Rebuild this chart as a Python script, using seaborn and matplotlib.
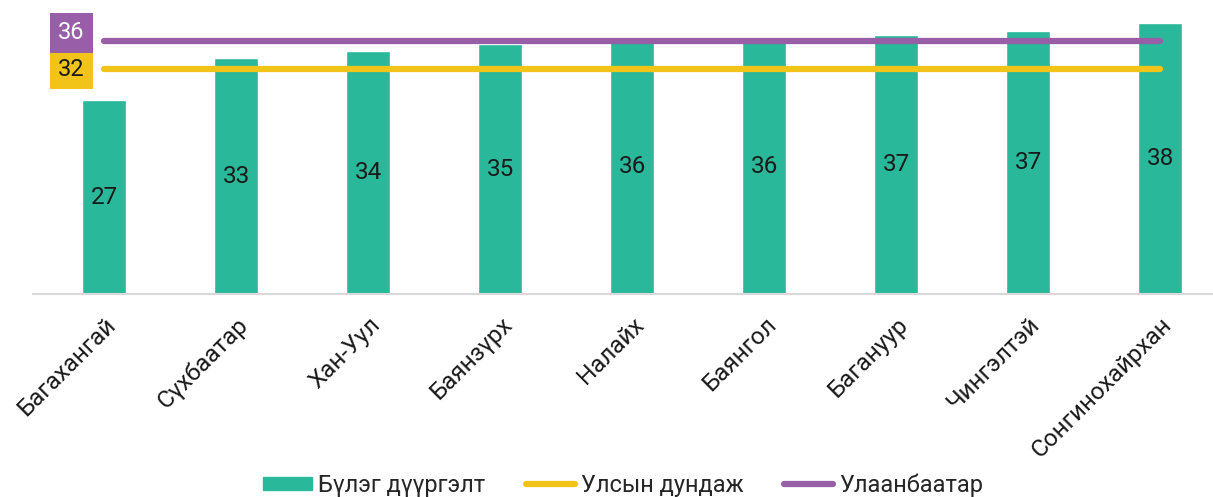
import matplotlib
matplotlib.use("Agg")
import matplotlib.pyplot as plt
import matplotlib.patches as mpatches
import matplotlib.lines as mlines
import numpy as np
import pandas as pd
import seaborn as sns

# -------- data --------
districts = ["Багахангай", "Сүхбаатар", "Хан-Уул", "Баянзүрх", "Налайх",
             "Баянгол", "Багануур", "Чингэлтэй", "Сонгинохайрхан"]
fill_rate = [27.2, 33.1, 34.1, 35.1, 35.7, 35.7, 36.4, 37.0, 38.0]
fill_labels = [27, 33, 34, 35, 36, 36, 37, 37, 38]
national_avg = 31.6
ub_avg = 35.6
national_label = "32"
ub_label = "36"

series_bar = "Бүлэг дүүргэлт"
series_nat = "Улсын дундаж"
series_ub = "Улаанбаатар"

TEAL = "#29b99a"
YELLOW = "#f2c318"
PURPLE = "#985ea8"
INK = "#1a1a1a"

sns.set_theme(style="white")
plt.rcParams["font.family"] = ["Roboto", "DejaVu Sans"]
plt.rcParams["font.weight"] = "normal"

df = pd.DataFrame({"district": districts, "value": fill_rate})

fig = plt.figure(figsize=(12.13, 4.97), dpi=100)
W, H = 1213, 497
ax = fig.add_axes([33 / W, 1 - 294 / H, 1180 / W, 294 / H])

sns.barplot(data=df, x="district", y="value", color=TEAL, width=0.33,
            saturation=1, ax=ax, zorder=2)

# bar value labels, centered in the bars
for i, (v, lab) in enumerate(zip(fill_rate, fill_labels)):
    ax.text(i, v / 2, str(lab), ha="center", va="center", fontsize=17.5,
            color=INK, zorder=4)

n = len(districts)
ax.plot([0, n - 1], [national_avg, national_avg], color=YELLOW, lw=4.5,
        solid_capstyle="round", zorder=3)
ax.plot([0, n - 1], [ub_avg, ub_avg], color=PURPLE, lw=4.5,
        solid_capstyle="round", zorder=3)

# value boxes on the left
ax.text(-0.25, national_avg, national_label, ha="center", va="center",
        fontsize=17, color=INK, zorder=5,
        bbox=dict(boxstyle="square,pad=0.35", fc=YELLOW, ec="none"))
ax.text(-0.25, national_avg + 5.1, ub_label, ha="center", va="center",
        fontsize=17, color="white", zorder=5,
        bbox=dict(boxstyle="square,pad=0.35", fc=PURPLE, ec="none"))

ax.set_xlim(-0.54, 8.4)
ax.set_ylim(0, 41.3)
ax.set_xlabel("")
ax.set_ylabel("")
ax.set_yticks([])
for s in ["top", "right", "left"]:
    ax.spines[s].set_visible(False)
ax.spines["bottom"].set_color("#d9d9d9")
ax.spines["bottom"].set_linewidth(1.5)
ax.tick_params(axis="x", length=0, pad=14)
plt.setp(ax.get_xticklabels(), rotation=45, ha="right",
         rotation_mode="anchor", fontsize=17.5, color=INK)

handles = [
    mpatches.Patch(color=TEAL, label=series_bar),
    mlines.Line2D([], [], color=YELLOW, lw=4.5, solid_capstyle="round", label=series_nat),
    mlines.Line2D([], [], color=PURPLE, lw=4.5, solid_capstyle="round", label=series_ub),
]
fig.legend(handles=handles, loc="center", bbox_to_anchor=(623 / W, 1 - 485 / H),
           ncol=3, frameon=False, fontsize=17, handlelength=2.1,
           handleheight=0.5, handletextpad=0.25, columnspacing=1.7)

fig.savefig("out.png", dpi=100)
